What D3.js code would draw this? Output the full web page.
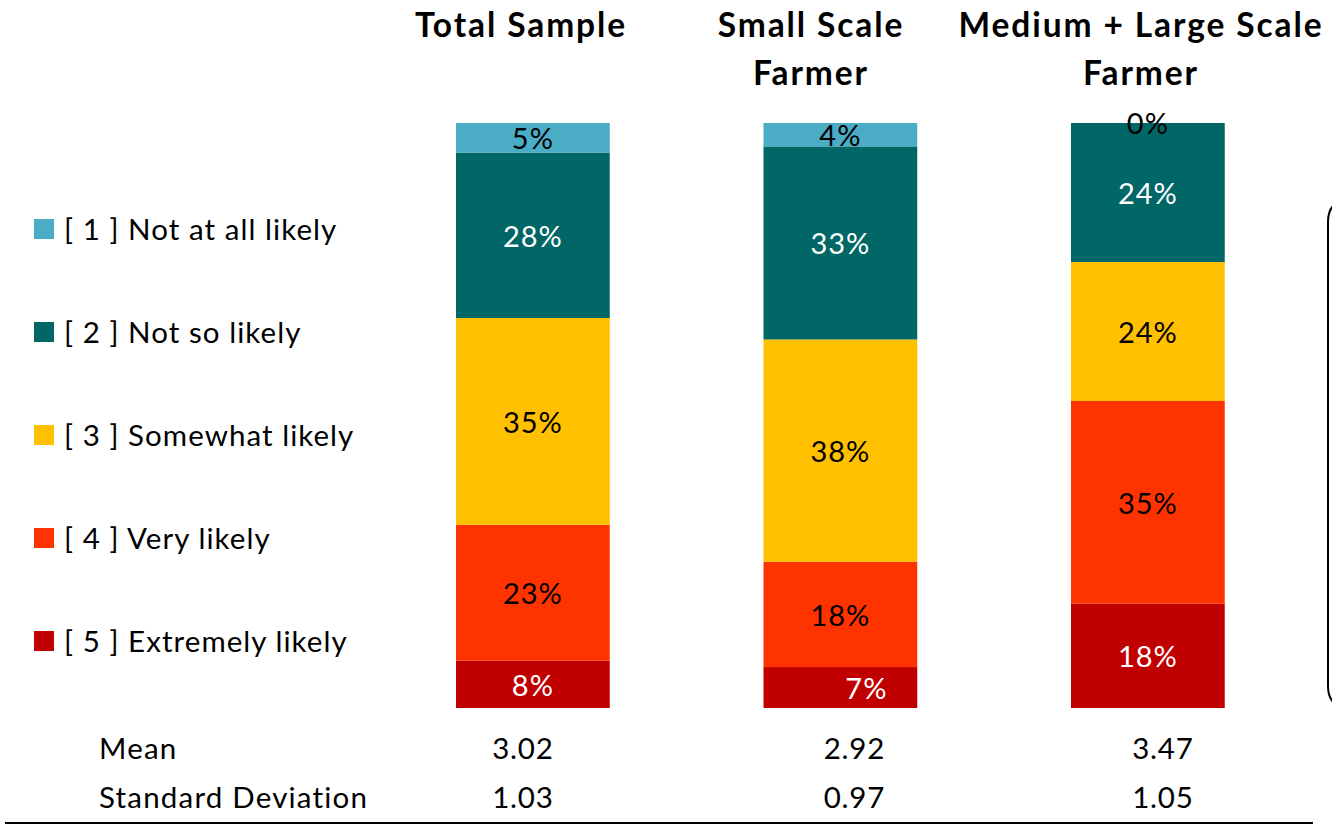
<!DOCTYPE html>
<html>
<head>
<meta charset="utf-8">
<script src="https://cdn.jsdelivr.net/npm/d3@7"></script>
<style>
  body { margin: 0; background: #fff; }
  svg { display: block; font-family: Lato, "Open Sans", sans-serif; }
</style>
</head>
<body>
<svg id="chart" width="1332" height="825"></svg>
<script>
// ---- data ----
const categories = ["Total Sample", "Small Scale Farmer", "Medium + Large Scale Farmer"];
const titleLines = [["Total Sample"], ["Small Scale", "Farmer"], ["Medium + Large Scale", "Farmer"]];
const responseKeys = ["[ 1 ] Not at all likely", "[ 2 ] Not so likely", "[ 3 ] Somewhat likely", "[ 4 ] Very likely", "[ 5 ] Extremely likely"];
const notAtAll   = [5, 4, 0];
const notSo      = [28, 33, 24];
const somewhat   = [35, 38, 24];
const very       = [23, 18, 35];
const extremely  = [8, 7, 18];
const meanValues = ["3.02", "2.92", "3.47"];
const sdValues   = ["1.03", "0.97", "1.05"];
const statLabels = ["Mean", "Standard Deviation"];

// ---- styles / layout ----
const colors = ["#4BACC6", "#006666", "#FFC000", "#FF3300", "#C00000"];
const labelColors = ["#000", "#fff", "#000", "#000", "#fff"];
const titleX = [521, 811, 1141];
const statDx = [-10, 14, 15];
const barTop = 123, barBottom = 708;

const series = [notAtAll, notSo, somewhat, very, extremely];
const rows = categories.map((c, i) => {
  const o = { cat: c };
  responseKeys.forEach((k, j) => o[k] = series[j][i]);
  return o;
});

const svg = d3.select("#chart");

const x = d3.scaleBand().domain(categories).range([302.25, 1378.5]).paddingInner(0.5).paddingOuter(0.5);
const y = d3.scaleLinear().domain([0, 1]).range([barBottom, barTop]);

const stackKeys = responseKeys.slice().reverse();
const stacked = d3.stack().keys(stackKeys).offset(d3.stackOffsetExpand)(rows);

const g = svg.append("g");
stacked.forEach(layer => {
  const ki = responseKeys.indexOf(layer.key);
  g.selectAll(null).data(layer).enter().append("rect")
    .attr("x", d => x(d.data.cat))
    .attr("width", x.bandwidth())
    .attr("y", d => y(d[1]))
    .attr("height", d => Math.max(0, y(d[0]) - y(d[1])))
    .attr("fill", colors[ki]);
});

// data labels
stacked.forEach(layer => {
  const ki = responseKeys.indexOf(layer.key);
  g.selectAll(null).data(layer).enter().append("text")
    .attr("x", d => x(d.data.cat) + x.bandwidth() / 2 + (ki === 4 && d.data.cat === categories[1] ? 26 : 0))
    .attr("y", d => (y(d[0]) + y(d[1])) / 2 + 1)
    .attr("dy", "0.36em")
    .attr("text-anchor", "middle")
    .attr("font-size", 29)
    .attr("letter-spacing", 1)
    .attr("fill", labelColors[ki])
    .text(d => d.data[layer.key] + "%");
});

// titles
categories.forEach((c, i) => {
  const t = svg.append("text")
    .attr("x", titleX[i])
    .attr("y", 37)
    .attr("text-anchor", "middle")
    .attr("font-size", 33.5)
    .attr("letter-spacing", 1.9)
    .attr("font-weight", "bold")
    .attr("fill", "#000");
  titleLines[i].forEach((line, li) => {
    t.append("tspan").attr("x", titleX[i]).attr("y", 37 + li * 48).text(line);
  });
});

// legend
const legendY = d3.scalePoint().domain(responseKeys).range([229, 641]);
const lg = svg.append("g");
responseKeys.forEach((k, i) => {
  lg.append("rect").attr("x", 34).attr("y", legendY(k) - 10).attr("width", 20).attr("height", 20).attr("fill", colors[i]);
  lg.append("text").attr("x", 64).attr("y", legendY(k)).attr("dy", "0.36em")
    .attr("font-size", 29.5).attr("letter-spacing", 1.05).attr("fill", "#000").text(k);
});

// stats table
const statY = [748, 797];
statLabels.forEach((s, i) => {
  svg.append("text").attr("x", 99).attr("y", statY[i]).attr("dy", "0.36em")
    .attr("font-size", 29.5).attr("letter-spacing", 1.2).attr("fill", "#000").text(s);
});
[meanValues, sdValues].forEach((vals, r) => {
  vals.forEach((v, i) => {
    svg.append("text")
      .attr("x", x(categories[i]) + x.bandwidth() / 2 + statDx[i])
      .attr("y", statY[r]).attr("dy", "0.36em")
      .attr("text-anchor", "middle").attr("font-size", 29.5).attr("letter-spacing", 0.8)
      .attr("fill", "#000").text(v);
  });
});

// bottom rule
svg.append("line").attr("x1", 5).attr("x2", 1313).attr("y1", 823).attr("y2", 823)
  .attr("stroke", "#000").attr("stroke-width", 2);

// partially visible rounded box on the right
svg.append("path")
  .attr("d", "M1350,200 Q1328,200 1328,222 L1328,686 Q1328,708 1350,708")
  .attr("fill", "none").attr("stroke", "#000").attr("stroke-width", 2);
</script>
</body>
</html>
